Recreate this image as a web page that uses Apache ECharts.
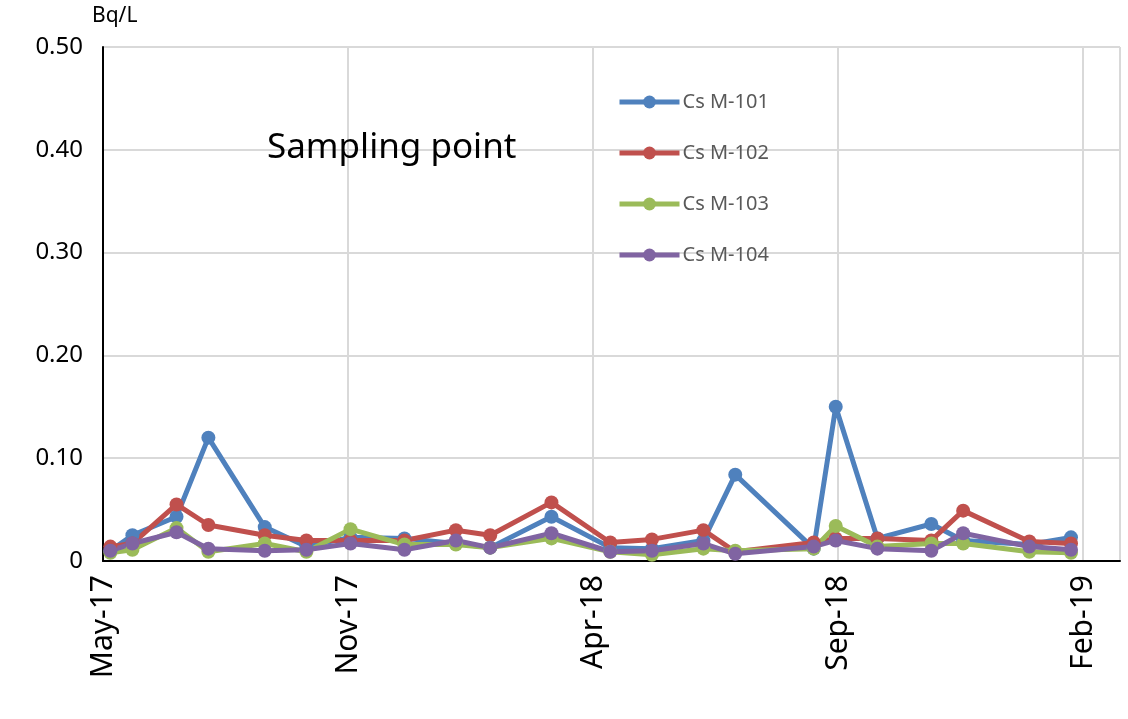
<!DOCTYPE html>
<html>
<head>
<meta charset="utf-8">
<script src="https://cdn.jsdelivr.net/npm/echarts@6/dist/echarts.min.js"></script>
<style>html,body{margin:0;padding:0;background:#fff}#c{width:1128px;height:719px}</style>
</head>
<body>
<div id="c"></div>
<script>
// x positions in axis units (1 unit = one labelled gridline step)
var xPos = [0.03, 0.12, 0.30, 0.43, 0.66, 0.83, 1.01, 1.23, 1.44, 1.58, 1.83, 2.07, 2.24, 2.45, 2.58, 2.90, 2.99, 3.16, 3.38, 3.51, 3.78, 3.95];
var tickLabels = ['May-17', 'Nov-17', 'Apr-18', 'Sep-18', 'Feb-19'];
var m101 = [0.010, 0.025, 0.043, 0.120, 0.033, 0.014, 0.023, 0.022, 0.017, 0.013, 0.043, 0.013, 0.012, 0.020, 0.084, 0.012, 0.150, 0.022, 0.036, 0.020, 0.016, 0.023];
var m102 = [0.014, 0.017, 0.055, 0.035, 0.025, 0.020, 0.020, 0.020, 0.030, 0.025, 0.057, 0.018, 0.021, 0.030, 0.009, 0.018, 0.022, 0.022, 0.020, 0.049, 0.019, 0.017];
var m103 = [0.008, 0.011, 0.032, 0.009, 0.017, 0.009, 0.031, 0.016, 0.016, 0.013, 0.022, 0.009, 0.006, 0.012, 0.010, 0.012, 0.034, 0.014, 0.017, 0.017, 0.009, 0.008];
var m104 = [0.010, 0.017, 0.028, 0.012, 0.010, 0.011, 0.017, 0.011, 0.020, 0.013, 0.027, 0.009, 0.010, 0.017, 0.007, 0.014, 0.020, 0.012, 0.010, 0.027, 0.014, 0.011];
var names = ['Cs M-101', 'Cs M-102', 'Cs M-103', 'Cs M-104'];
var colors = ['#4f81bd', '#c0504d', '#9bbb59', '#8064a2'];
var values = [m101, m102, m103, m104];

function pair(v) { return v.map(function (y, i) { return [xPos[i], y]; }); }

var chart = echarts.init(document.getElementById('c'));
chart.setOption({
    animation: false,
    textStyle: {fontFamily: 'Noto Sans'},
    grid: {left: 103, top: 47, right: 8, bottom: 158},
    title: {
        text: 'Sampling point', left: 262, top: 126,
        textStyle: {fontSize: 35, fontWeight: 'normal', color: '#000', fontFamily: 'Noto Sans'}
    },
    graphic: [{type: 'text', left: 92, top: 6, style: {text: 'Bq/L', fontSize: 21, fill: '#000', fontFamily: 'Noto Sans'}}],
    legend: {
        orient: 'vertical', left: 612, top: 87, itemGap: 31, itemWidth: 60, itemHeight: 16,
        lineStyle: {width: 5},
        textStyle: {fontSize: 20, color: '#595959', fontFamily: 'Noto Sans', padding: [0, 0, 0, -2]},
        data: names
    },
    xAxis: {
        type: 'value', min: 0, max: 4.15, interval: 1,
        axisLine: {lineStyle: {color: '#000', width: 2}},
        axisTick: {show: false},
        splitLine: {lineStyle: {color: '#d9d9d9', width: 2}},
        axisLabel: {
            rotate: 90, fontSize: 30, color: '#000', margin: 14, showMaxLabel: false,
            formatter: function (v) { return Number.isInteger(v) ? tickLabels[v] : ''; }
        }
    },
    yAxis: {
        type: 'value', min: 0, max: 0.5, interval: 0.1,
        axisLine: {show: true, lineStyle: {color: '#000', width: 2}},
        axisTick: {show: false},
        splitLine: {lineStyle: {color: '#d9d9d9', width: 2}},
        axisLabel: {
            fontSize: 24, color: '#000', margin: 20,
            formatter: function (v) { return v === 0 ? '0' : v.toFixed(2); }
        }
    },
    series: names.map(function (n, k) {
        return {
            name: n, type: 'line', data: pair(values[k]),
            symbol: 'circle', symbolSize: 14,
            lineStyle: {width: 5, color: colors[k]},
            itemStyle: {color: colors[k]}
        };
    })
});
</script>
</body>
</html>
